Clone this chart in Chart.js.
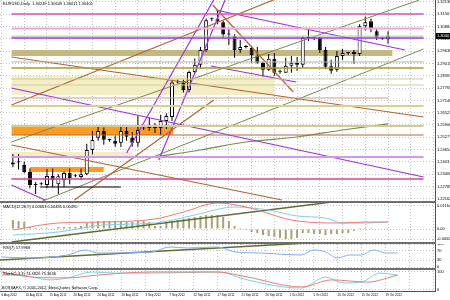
<!DOCTYPE html>
<html>
<head>
<meta charset="utf-8">
<title>EURUSD,Daily</title>
<script src="https://cdn.jsdelivr.net/npm/chart.js@4.4.1/dist/chart.umd.min.js"></script>
<style>
  body{margin:0;background:#fff;}
  #box{position:relative;width:450px;height:300px;overflow:hidden;background:#fff;}
  #box canvas{position:absolute;left:0;}
  .sep{position:absolute;left:0;width:436px;height:2px;background:#6e6e6e;}
</style>
</head>
<body>
<div id="box">
  <canvas id="cMain" width="450" height="201" style="top:0px"></canvas>
  <div class="sep" style="top:201px"></div>
  <canvas id="cMacd" width="450" height="39" style="top:203px"></canvas>
  <div class="sep" style="top:242px"></div>
  <canvas id="cRsi" width="450" height="24" style="top:244px"></canvas>
  <div class="sep" style="top:268px"></div>
  <canvas id="cStoch" width="450" height="30" style="top:270px"></canvas>
</div>
<script>
// бары с 6 Aug 2012 по 22 Oct 2012 (вместе с воскресными барами)
var openP  = [1.2390,1.2400,1.2387,1.2352,1.2286,1.2290,1.2286,1.2332,1.2290,1.2312,
              1.2347,1.2330,1.2327,1.2340,1.2463,1.2525,1.2560,1.2514,1.2510,1.2500,
              1.2560,1.2527,1.2500,1.2572,1.2575,1.2590,1.2575,1.2610,1.2630,1.2810,
              1.2805,1.2767,1.2858,1.2895,1.2970,1.3125,1.3130,1.3110,1.3048,1.3040,
              1.2970,1.2985,1.2980,1.2940,1.2905,1.2870,1.2925,1.2860,1.2855,1.2890,
              1.2905,1.2895,1.3030,1.3030,1.3030,1.2970,1.2888,1.2870,1.2940,1.2955,
              1.2960,1.2950,1.3090,1.3115,1.3065,1.3030,1.30249];
var highP  = [1.2443,1.2443,1.2405,1.2370,1.2300,1.2300,1.2367,1.2370,1.2340,1.2355,
              1.2370,1.2340,1.2370,1.2495,1.2560,1.2590,1.2577,1.2520,1.2535,1.2580,
              1.2580,1.2555,1.2637,1.2580,1.2625,1.2600,1.2640,1.2650,1.2815,1.2820,
              1.2820,1.2865,1.2927,1.2985,1.3128,1.3135,1.3172,1.3118,1.3076,1.3050,
              1.3020,1.2995,1.2990,1.2985,1.2910,1.2950,1.2955,1.2870,1.2930,1.2940,
              1.2935,1.3040,1.3075,1.3035,1.3035,1.2985,1.2920,1.2965,1.2975,1.2960,
              1.2970,1.3100,1.3140,1.3130,1.3075,1.3035,1.30649];
var lowP   = [1.2376,1.2365,1.2345,1.2268,1.2241,1.2283,1.2270,1.2275,1.2240,1.2275,
              1.2290,1.2325,1.2310,1.2335,1.2440,1.2510,1.2490,1.2505,1.2480,1.2478,
              1.2510,1.2480,1.2480,1.2565,1.2560,1.2550,1.2540,1.2570,1.2610,1.2800,
              1.2755,1.2755,1.2850,1.2875,1.2960,1.3115,1.3100,1.3030,1.2995,1.2930,
              1.2955,1.2978,1.2905,1.2900,1.2835,1.2865,1.2840,1.2850,1.2855,1.2855,
              1.2865,1.2880,1.3015,1.3020,1.2955,1.2875,1.2850,1.2860,1.2920,1.2945,
              1.2900,1.2940,1.3070,1.3060,1.3020,1.3022,1.30011];
var closeP = [1.2400,1.2406,1.2352,1.2286,1.2290,1.2292,1.2332,1.2311,1.2330,1.2347,
              1.2322,1.2335,1.2340,1.2463,1.2514,1.2560,1.2515,1.2514,1.2495,1.2560,
              1.2530,1.2500,1.2565,1.2575,1.2590,1.2575,1.2610,1.2635,1.2805,1.2805,
              1.2767,1.2858,1.2895,1.2970,1.3120,1.3130,1.3115,1.3048,1.3050,1.2970,
              1.2985,1.2985,1.2945,1.2905,1.2870,1.2925,1.2855,1.2862,1.2890,1.2905,
              1.2895,1.3030,1.3035,1.3028,1.2970,1.2885,1.2865,1.2940,1.2955,1.2955,
              1.2950,1.3090,1.3110,1.3075,1.3035,1.3025,1.30401];

var dateLabels = ['6 Aug 2012','10 Aug 2012','15 Aug 2012','20 Aug 2012','24 Aug 2012','29 Aug 2012',
                  '3 Sep 2012','7 Sep 2012','12 Sep 2012','17 Sep 2012','21 Sep 2012','26 Sep 2012',
                  '1 Oct 2012','5 Oct 2012','10 Oct 2012','15 Oct 2012','19 Oct 2012'];
var dateBars = [0,4,8,12,16,20,24,28,32,36,40,44,48,52,56,60,64];
var gridBars = [0,4,8,12,16,20,24,28,32,36,40,44,48,52,56,60,64,68,72];
var priceTicks = [1.32130,1.31507,1.30884,1.30261,1.29638,1.29015,1.28392,1.27769,1.27146,
                  1.26523,1.25900,1.25277,1.24654,1.24031,1.23408,1.22785,1.22162];
var bidPrice = 1.30401;

// горизонтальные уровни
var levelPrice = [1.31522,1.30787,1.30401,1.30306,1.29091,1.28787,1.28230,1.27926,1.27267,
                  1.26862,1.25849,1.25393,1.24279,1.23165,1.22759];
var levelFrom  = [-0.25,-0.25,-0.25,-0.25,-0.25,-0.25,-0.25,-0.25,-0.25,-0.25,-0.25,-0.25,-0.25,-0.25,4.8];
var levelTo    = [72.25,72.25,72.25,72.25,72.25,72.25,72.25,72.25,66,72.25,72.25,72.25,72.25,72.25,19];
var levelColor = ['#e04fb8','#f2a6da','#b8b8b8','#a236e0','#b4b894','#a89a2e','#cdcaa6','#cdcaa6',
                  '#d39a86','#d8d08e','#d4cc8a','#b3683a','#d497ec','#c8479f','#000000'];
var levelWidth = [1.5,2,1,1.5,1,1.5,1,1,1.2,2,2,1.2,2,1.5,1];

// прямоугольники
var bandTop    = [1.29699,1.28382,1.25849,1.24532,1.23772];
var bandBottom = [1.29395,1.27419,1.25393,1.24279,1.23519];
var bandFrom   = [-0.25,-0.25,-0.25,-0.25,3];
var bandTo     = [66.8,46,28.2,21,16];
var bandColor  = ['#c4b97c','#f3eec4','#ff9b1f','#f3eec4','#ff9b1f'];

// трендовые линии: бар1, цена1, бар2, цена2
var brownLines  = [[-0.25,1.29344,72.25,1.26305],[-0.25,1.26913,45.83,1.32231],
                   [-0.25,1.24887,47.33,1.22101],[10.83,1.22101,35.33,1.27166],
                   [35.17,1.31978,49.33,1.27571]];
var purpleLines = [[35.67,1.31725,69,1.29699],[34.83,1.28888,49.83,1.28078],
                   [-0.25,1.27774,72.25,1.23266],[-0.25,1.22861,5.67,1.22101],
                   [20,1.24482,35.33,1.32231],[25.67,1.24127,37.33,1.32231]];
var oliveLines  = [[-0.25,1.25039,71.5,1.32231],[4.83,1.22000,72.25,1.29749]];
var maBars   = [25,33,41,50,58,66];
var maValues = [1.24279,1.24634,1.25039,1.25292,1.25647,1.25961];

// MACD
var macdHist = [0.0045,0.004,0.0035,0.001,0.0005,0.0005,0.0005,0.0005,0.001,0.001,
                0.001,0.001,0.0015,0.003,0.0035,0.004,0.004,0.004,0.004,0.004,
                0.0035,0.0035,0.004,0.004,0.0035,0.0015,0.0015,0.003,0.004,0.0045,
                0.005,0.0055,0.006,0.0065,0.007,0.007,0.007,0.006,0.004,0.0015,
                0.0005,-0.0005,-0.0015,-0.002,-0.003,-0.0035,-0.004,-0.0045,-0.005,-0.005,
                -0.0045,-0.002,-0.002,-0.0025,-0.0025,-0.003,-0.0025,-0.0025,-0.002,-0.002,
                -0.001,0.0005,0.0005,0.0005,0,0,0.0003];
var macdRedBars  = [0,8,16,25,30,36,41,50,58,62,66];
var macdRed      = [-0.0005,0.003,0.0035,0.005,0.0085,0.013,0.011,0.004,0.003,0.0035,0.0035];
var macdCyanBars = [0,8,16,25,32,39,45,50,55,58,62,66];
var macdCyan     = [-0.003,-0.0015,0.002,0.003,0.007,0.011,0.0095,0.0065,0.0055,0.003,0.003,0.0035];
var macdTrend    = [-0.25,-0.0065,59,0.0145];
var macdTicks    = [0.0116,0,-0.0050];
var macdTickText = ['0.011644','0.00','-0.005063'];

// RSI
var rsiBars = [0,5,11,14,16,25,28,31,36,39,43,50,52,54,56,58,60,62,64,66];
var rsiVals = [43.5,39.2,52.2,74,60.9,65.3,87,82.7,87,65.3,60.9,52.2,74,65.3,39.2,52.2,52.2,74,60.9,60.9];
var rsiTrend = [-0.25,30.45,54,108.75];
var rsiTicks = [100,70,30,0];

// Stochastic
var stRedBars  = [0,5,11,16,25,36,41,50,55,61,66];
var stRed      = [100,72,67,83,100,100,72,17,56,44,83];
var stCyanBars = [0,3,8,11,15,19,25,36,41,47,50,54,57,60,63,66];
var stCyan     = [83,83,56,67,100,94,94,100,56,17,11,72,39,44,94,83];
var stTicks    = [100,0];

var xMin = -0.25, xMax = 72.25;

function pts(xs, ys){ return xs.map(function(x,i){ return {x:x, y:ys[i]}; }); }
function seg(l, color, w){
  return {type:'line', data:[{x:l[0],y:l[1]},{x:l[2],y:l[3]}], borderColor:color, borderWidth:w||1,
          pointRadius:0, fill:false, order:1};
}
function curve(xs, ys, color, w){
  return {type:'line', data:pts(xs, ys), borderColor:color, borderWidth:w||1, pointRadius:0,
          fill:false, cubicInterpolationMode:'monotone', order:1};
}

var textPlugin = {
  id:'panelText',
  afterDraw: function(chart){
    var o = chart.options.plugins.panelText || {};
    var ctx = chart.ctx, a = chart.chartArea;
    ctx.save();
    ctx.font = '4px "Liberation Sans"';
    ctx.textBaseline = 'top';
    ctx.fillStyle = '#000';
    if (o.text) ctx.fillText(o.text, a.left + 3, a.top + 2);
    if (o.footer) { ctx.textBaseline = 'bottom'; ctx.fillText(o.footer, a.left + 2, a.bottom - 1); }
    if (o.box) {
      var y = chart.scales.y.getPixelForValue(o.box);
      ctx.fillStyle = '#000';
      ctx.fillRect(a.right + 1, Math.round(y) - 3, 15, 6);
      ctx.fillStyle = '#fff';
      ctx.textBaseline = 'middle';
      ctx.fillText(o.box.toFixed(5), a.right + 2, Math.round(y));
    }
    ctx.restore();
  }
};

function xAxis(showDates){
  return {
    type:'linear', min:xMin, max:xMax,
    afterBuildTicks: function(s){ s.ticks = gridBars.map(function(v){ return {value:v}; }); },
    afterFit: function(s){ s.height = showDates ? 9 : 0; s.paddingLeft = 0; s.paddingRight = 0; },
    grid:{color:'#c4c4c4', drawTicks:false},
    border:{display:showDates, color:'#505050', dash:[1,2]},
    ticks:{display:showDates, align:'start', padding:2, maxRotation:0, autoSkip:false, font:{size:3},
      callback: function(v){ var k = dateBars.indexOf(v); return k < 0 ? '' : dateLabels[k]; }}
  };
}
function yAxis(min, max, ticks, fmt){
  return {
    position:'right', min:min, max:max,
    afterBuildTicks: function(s){ s.ticks = ticks.map(function(v){ return {value:v}; }); },
    afterFit: function(s){ s.width = 15; s.paddingTop = 0; s.paddingBottom = 0; },
    grid:{color:'#c4c4c4', drawTicks:false},
    border:{color:'#505050', dash:[1,2]},
    ticks:{padding:2, autoSkip:false, callback:fmt}
  };
}
function baseOptions(x, y, text){
  return {
    responsive:false, devicePixelRatio:1, animation:false,
    layout:{padding:0},
    scales:{x:x, y:y},
    plugins:{legend:{display:false}, tooltip:{enabled:false}, panelText:text}
  };
}

Chart.defaults.font.family = '"Liberation Sans"';
Chart.defaults.font.size = 4;
Chart.defaults.color = '#000';

// основное окно
var mainSets = [];
bandTop.forEach(function(t,i){
  mainSets.push({type:'line', data:[{x:bandFrom[i],y:t},{x:bandTo[i],y:t}], fill:{value:bandBottom[i]},
    backgroundColor:bandColor[i], borderWidth:0, pointRadius:0, order:10});
});
levelPrice.forEach(function(p,i){
  mainSets.push(seg([levelFrom[i],p,levelTo[i],p], levelColor[i], levelWidth[i]));
});
brownLines.forEach(function(l){ mainSets.push(seg(l,'#b0652f',1.2)); });
purpleLines.forEach(function(l){ mainSets.push(seg(l,'#a030e0',1.2)); });
oliveLines.forEach(function(l){ mainSets.push(seg(l,'#7a8a50',1)); });
mainSets.push(curve(maBars, maValues, '#7b8b4b', 1.2));
mainSets.push({type:'bar', data:lowP.map(function(l,i){ return {x:i, y:[l, highP[i]]}; }),
  backgroundColor:'#000', barThickness:1, grouped:false, inflateAmount:0, order:3});
mainSets.push({type:'bar', data:openP.map(function(o,i){ return {x:i, y:[o, closeP[i]]}; }),
  backgroundColor:openP.map(function(o,i){ return closeP[i] >= o ? '#ffffff' : '#000000'; }),
  borderColor:'#000', borderWidth:1, borderSkipped:false, barThickness:4, minBarLength:1,
  grouped:false, inflateAmount:0, order:2});

var priceMax = 1.32231, priceMin = 1.22050;
new Chart(document.getElementById('cMain'), {
  type:'bar',
  data:{datasets:mainSets},
  options: baseOptions(xAxis(false), yAxis(priceMin, priceMax, priceTicks, function(v){ return v.toFixed(5); }),
    {text:'EURUSD,Daily  1.30249 1.30649 1.30011 1.30401', box:bidPrice}),
  plugins:[textPlugin]
});

// MACD
new Chart(document.getElementById('cMacd'), {
  type:'bar',
  data:{datasets:[
    {type:'bar', data:pts(macdHist.map(function(v,i){ return i; }), macdHist), backgroundColor:'#a7a173',
     barThickness:2, grouped:false, inflateAmount:0, order:3},
    curve(macdRedBars, macdRed, '#f07a7a', 1),
    curve(macdCyanBars, macdCyan, '#7fd0f0', 1),
    seg(macdTrend, '#5f6f30', 1.5)
  ]},
  options: baseOptions(xAxis(false), yAxis(-0.0065, 0.013, macdTicks,
    function(v){ return macdTickText[macdTicks.indexOf(v)]; }),
    {text:'MACD(12,26,9) 0.00663 0.00485 0.00490'}),
  plugins:[textPlugin]
});

// RSI
new Chart(document.getElementById('cRsi'), {
  type:'line',
  data:{datasets:[
    curve(rsiBars, rsiVals, '#84aef2', 1),
    seg(rsiTrend, '#5f6f30', 1.5)
  ]},
  options: baseOptions(xAxis(false), yAxis(-4.35, 100.05, rsiTicks, function(v){ return String(v); }),
    {text:'RSI(7) 57.9968'}),
  plugins:[textPlugin]
});

// Stochastic
new Chart(document.getElementById('cStoch'), {
  type:'line',
  data:{datasets:[
    curve(stRedBars, stRed, '#f07a7a', 1),
    curve(stCyanBars, stCyan, '#74d8d2', 1)
  ]},
  options: baseOptions(xAxis(true), yAxis(-5.56, 111.1, stTicks, function(v){ return String(v); }),
    {text:'Stoch(5,3,3) 74.4826 75.3636', footer:'BOSSAFX, © 2001-2012, MetaQuotes Software Corp.'}),
  plugins:[textPlugin]
});
</script>
</body>
</html>
